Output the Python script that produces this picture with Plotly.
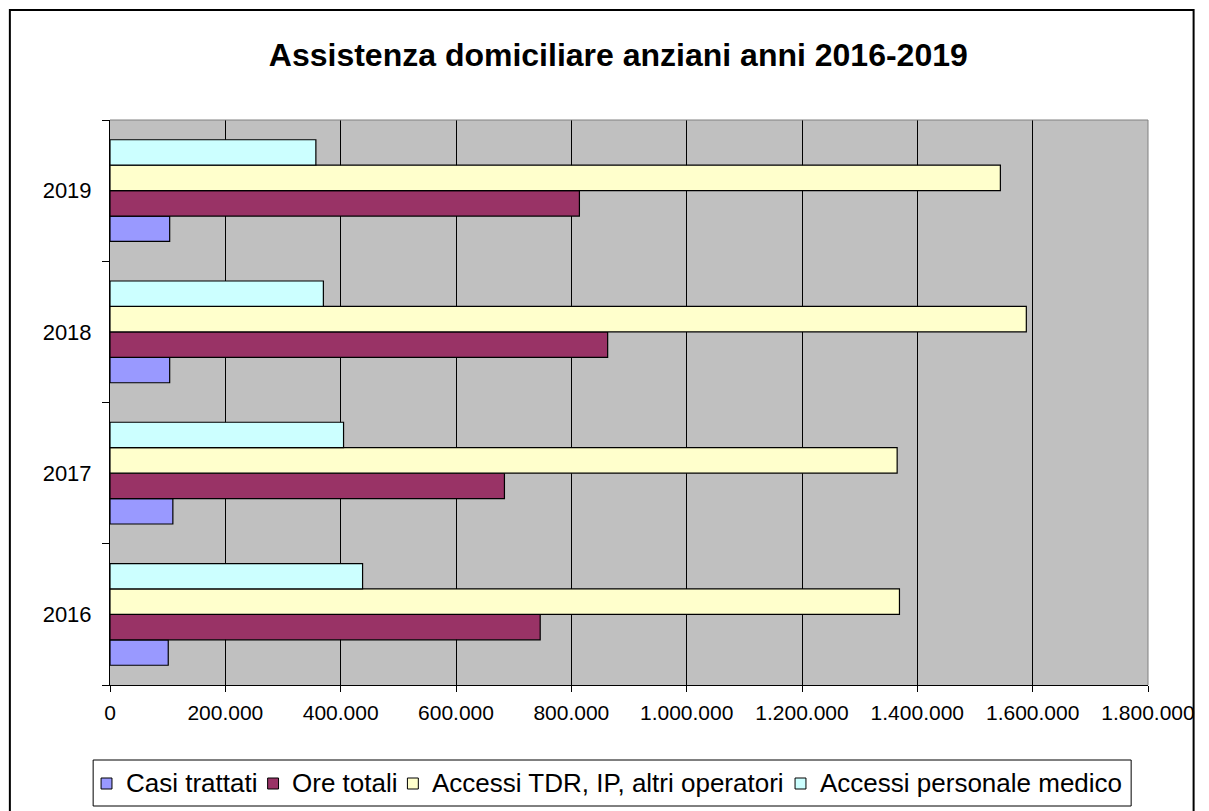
import plotly.graph_objects as go

anni = ["2016", "2017", "2018", "2019"]
casi_trattati = [101000, 109000, 103500, 103500]
ore_totali = [746000, 684000, 863000, 814000]
accessi_tdr = [1369000, 1365000, 1589000, 1544000]
accessi_medico = [438000, 405000, 370000, 357000]

nomi = ["Casi trattati", "Ore totali", "Accessi TDR, IP, altri operatori",
        "Accessi personale medico"]
colori = ["#9999FF", "#993366", "#FFFFCC", "#CCFFFF"]
valori = [casi_trattati, ore_totali, accessi_tdr, accessi_medico]

font = "Liberation Sans, Arial, sans-serif"

fig = go.Figure()
for nome, v, colore in zip(nomi, valori, colori):
    fig.add_trace(go.Bar(
        y=anni, x=v, name=nome, orientation="h",
        marker=dict(color=colore, line=dict(color="black", width=1.2)),
    ))

# la pagina ha un margine di 8px: la figura parte da (8, 8)
fig.update_layout(
    width=1199, height=803,
    margin=dict(l=102, r=50, t=112, b=126),
    paper_bgcolor="white",
    plot_bgcolor="#C0C0C0",
    separators=",.",
    barmode="group",
    bargap=0.28,
    bargroupgap=0,
    showlegend=False,
    font=dict(family=font, size=18, color="black"),
    title=dict(
        text="<b>Assistenza domiciliare anziani anni 2016-2019</b>",
        x=0.509, xanchor="center", y=0.9415, yanchor="middle",
        font=dict(family=font, size=32, color="black"),
    ),
)

fig.update_xaxes(
    range=[0, 1800000], dtick=200000, tickformat=",d",
    showgrid=True, gridcolor="black", gridwidth=1,
    ticks="outside", ticklen=6, tickcolor="black",
    showline=True, linecolor="black", linewidth=1,
    zeroline=False,
    ticklabelstandoff=3,
    tickfont=dict(family=font, size=21),
)
fig.update_yaxes(
    type="category",
    ticks="outside", ticklen=7, tickcolor="black",
    tickson="boundaries",
    showgrid=False,
    showline=True, linecolor="black", linewidth=1,
    ticklabelstandoff=13,
    tickfont=dict(family=font, size=22),
)


# pixel della pagina -> coordinate paper dell'area del grafico
def px_x(X):
    return (X - 110) / 1047


def px_y(Y):
    return (685 - Y) / 565


# bordo grigio dell'area del grafico (alto e destra)
fig.add_shape(type="line", xref="paper", yref="paper", x0=0, x1=1, y0=1, y1=1,
              line=dict(color="#808080", width=1))
fig.add_shape(type="line", xref="paper", yref="paper", x0=1, x1=1, y0=0, y1=1,
              line=dict(color="#808080", width=1))
# cornice esterna
fig.add_shape(type="rect", xref="paper", yref="paper",
              x0=px_x(9), x1=px_x(1203), y0=px_y(840), y1=px_y(10),
              line=dict(color="black", width=2), layer="below")

# legenda come in Excel: quadratini stretti accanto al testo
fig.add_shape(type="rect", xref="paper", yref="paper",
              x0=px_x(93), x1=px_x(1140), y0=px_y(806), y1=px_y(760),
              line=dict(color="black", width=1))
simboli_x = [101, 269, 410, 801]
for sx, nome, colore in zip(simboli_x, nomi, colori):
    fig.add_shape(type="rect", xref="paper", yref="paper",
                  x0=px_x(sx), x1=px_x(sx + 11), y0=px_y(789), y1=px_y(778),
                  fillcolor=colore, line=dict(color="black", width=1))
    fig.add_annotation(xref="paper", yref="paper", x=px_x(sx + 23), y=px_y(783),
                       xanchor="left", yanchor="middle", showarrow=False,
                       text=nome, font=dict(family=font, size=26, color="black"))

fig.write_html("out.html")
